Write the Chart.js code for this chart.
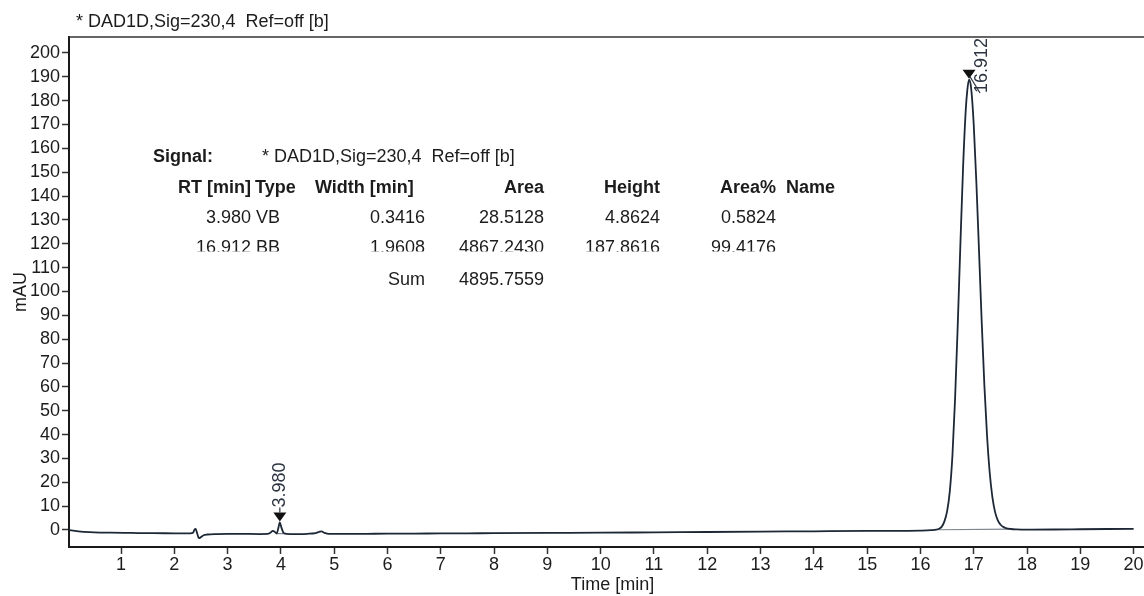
<!DOCTYPE html>
<html>
<head>
<meta charset="utf-8">
<script src="https://cdn.jsdelivr.net/npm/chart.js@4.4.1/dist/chart.umd.min.js"></script>
<style>
  html, body { margin: 0; padding: 0; background: #ffffff; overflow: hidden; }
  #wrap { width: 1156px; height: 596px; }
</style>
</head>
<body>
<div id="wrap"><canvas id="chrom" width="1156" height="596"></canvas></div>
<script>
// Chromatogram trace: retention time (min) and detector response (mAU)
const timeMin = [
  0.00, 0.10, 0.25, 0.50, 0.80, 1.20, 1.60, 2.00, 2.30, 2.35, 2.38, 2.40, 2.43, 2.46, 2.50, 2.55, 2.62,
  2.80, 3.00, 3.30, 3.60, 3.75, 3.80, 3.85, 3.89, 3.92, 3.95, 3.98, 4.01, 4.05, 4.10, 4.30, 4.50,
  4.65, 4.72, 4.76, 4.82, 4.90, 5.20, 5.60, 6.00, 6.50, 7.00, 7.50, 8.00, 9.00, 10.00, 11.00, 12.00,
  13.00, 14.00, 15.00, 15.60, 16.00, 16.20, 16.30, 16.35, 16.40, 16.45, 16.50, 16.55, 16.60, 16.65,
  16.70, 16.75, 16.80, 16.85, 16.88, 16.912, 16.95, 17.00, 17.05, 17.10, 17.15, 17.20, 17.25, 17.30,
  17.35, 17.40, 17.45, 17.50, 17.55, 17.60, 17.70, 17.80, 18.00, 18.50, 19.00, 19.50, 20.00
];
const signalMAU = [
  0.0, -0.3, -0.7, -1.0, -1.15, -1.25, -1.35, -1.4, -1.45, -1.2, 0.2, 0.4, -1.5, -3.4, -3.0, -2.2, -1.9,
  -1.7, -1.6, -1.65, -1.7, -1.65, -1.2, -0.4, -0.9, -1.5, 0.6, 3.15, 1.0, -1.2, -1.6, -1.7, -1.6,
  -1.3, -0.8, -0.6, -1.2, -1.6, -1.65, -1.6, -1.55, -1.5, -1.45, -1.4, -1.35, -1.25, -1.15, -1.0, -0.85,
  -0.7, -0.55, -0.4, -0.35, -0.25, -0.1, 0.1, 0.5, 1.4, 3.6, 7.8, 16, 31, 55,
  86, 120, 152, 176, 184.5, 188.8, 185.5, 170, 145.5, 116.5, 87, 60.5, 39.5, 24,
  13.8, 7.6, 4.1, 2.3, 1.3, 0.8, 0.4, 0.25, 0.15, 0.2, 0.3, 0.4, 0.5
];

// Integration baselines drawn under each peak
const baseStartT = [3.92, 16.33];
const baseEndT = [4.08, 17.70];
const baseStartY = [-1.5, 0.1];
const baseEndY = [-1.5, 0.35];

// Peak annotations
const peakRT = [3.980, 16.912];
const peakLabel = ['3.980', '16.912'];

// Axis ticks
const xTickValues = [1, 2, 3, 4, 5, 6, 7, 8, 9, 10, 11, 12, 13, 14, 15, 16, 17, 18, 19, 20];
const yTickValues = [0, 10, 20, 30, 40, 50, 60, 70, 80, 90, 100, 110, 120, 130, 140, 150, 160, 170, 180, 190, 200];

// Integration report
const signalName = '* DAD1D,Sig=230,4  Ref=off [b]';
const colHeaders = ['RT [min]', 'Type', 'Width [min]', 'Area', 'Height', 'Area%', 'Name'];
const colRT = ['3.980', '16.912'];
const colType = ['VB', 'BB'];
const colWidth = ['0.3416', '1.9608'];
const colArea = ['28.5128', '4867.2430'];
const colHeight = ['4.8624', '187.8616'];
const colAreaPct = ['0.5824', '99.4176'];
const sumArea = '4895.7559';

const FONT = '"Liberation Sans", Arial, Helvetica, sans-serif';
const TEXT = '#1c1c1c';

const traceData = timeMin.map((t, i) => ({ x: t, y: signalMAU[i] }));
const baselineData = [];
baseStartT.forEach((t, i) => {
  baselineData.push({ x: t, y: baseStartY[i] });
  baselineData.push({ x: baseEndT[i], y: baseEndY[i] });
  baselineData.push({ x: baseEndT[i] + 0.001, y: null });
});

const peakMarks = {
  id: 'peakMarks',
  afterDatasetsDraw(chart) {
    const { ctx, chartArea } = chart;
    const x = chart.scales.x, y = chart.scales.y;
    ctx.save();
    ctx.font = '18px ' + FONT;
    peakRT.forEach((rt, i) => {
      const idx = timeMin.indexOf(rt);
      const px = x.getPixelForValue(rt);
      const py = y.getPixelForValue(signalMAU[idx]);
      const tipY = py - 1, topY = tipY - 9;
      ctx.fillStyle = '#111111';
      ctx.beginPath();
      ctx.moveTo(px - 6.5, topY);
      ctx.lineTo(px + 6.5, topY);
      ctx.lineTo(px, tipY);
      ctx.closePath();
      ctx.fill();
      const label = peakLabel[i];
      const len = ctx.measureText(label).width;
      let lx = px, ly = topY - 5;
      ctx.strokeStyle = '#2b3440';
      ctx.lineWidth = 1.2;
      ctx.beginPath();
      if (ly - len < chartArea.top + 1) {
        lx = px + 13;
        ly = chartArea.top + 1 + len;
        ctx.moveTo(px + 1, tipY - 2);
        ctx.lineTo(lx - 2, ly);
      } else {
        ctx.moveTo(px, topY);
        ctx.lineTo(px, ly);
      }
      ctx.stroke();
      ctx.save();
      ctx.translate(lx, ly);
      ctx.rotate(-Math.PI / 2);
      ctx.fillStyle = '#2b3440';
      ctx.textAlign = 'left';
      ctx.textBaseline = 'middle';
      ctx.fillText(label, 0, 0);
      ctx.restore();
    });
    ctx.restore();
  }
};

const frameAndReport = {
  id: 'frameAndReport',
  afterDraw(chart) {
    const { ctx, chartArea } = chart;
    ctx.save();
    // top frame line
    ctx.strokeStyle = '#333333';
    ctx.lineWidth = 1.5;
    ctx.beginPath();
    ctx.moveTo(chartArea.left, chartArea.top);
    ctx.lineTo(chartArea.right, chartArea.top);
    ctx.stroke();

    // signal caption above the plot
    ctx.fillStyle = TEXT;
    ctx.textBaseline = 'alphabetic';
    ctx.font = '18px ' + FONT;
    ctx.textAlign = 'left';
    ctx.fillText(signalName, 76, 27);

    // report table
    const bold = 'bold 18px ' + FONT, reg = '18px ' + FONT;
    const put = (txt, xx, yy, align, f) => { ctx.font = f; ctx.textAlign = align; ctx.fillText(txt, xx, yy); };
    put('Signal:', 153, 162, 'left', bold);
    put(signalName, 262, 162, 'left', reg);

    const hy = 193;
    put(colHeaders[0], 251, hy, 'right', bold);
    put(colHeaders[1], 255, hy, 'left', bold);
    put(colHeaders[2], 315, hy, 'left', bold);
    put(colHeaders[3], 544, hy, 'right', bold);
    put(colHeaders[4], 660, hy, 'right', bold);
    put(colHeaders[5], 776, hy, 'right', bold);
    put(colHeaders[6], 786, hy, 'left', bold);

    const rowY = [223, 253];
    colRT.forEach((_, r) => {
      const yy = rowY[r];
      ctx.save();
      if (r === 1) { ctx.beginPath(); ctx.rect(0, yy - 20, 1156, 18.5); ctx.clip(); }
      put(colRT[r], 251, yy, 'right', reg);
      put(colType[r], 256, yy, 'left', reg);
      put(colWidth[r], 425, yy, 'right', reg);
      put(colArea[r], 544, yy, 'right', reg);
      put(colHeight[r], 660, yy, 'right', reg);
      put(colAreaPct[r], 776, yy, 'right', reg);
      ctx.restore();
    });
    put('Sum', 425, 285, 'right', reg);
    put(sumArea, 544, 285, 'right', reg);
    ctx.restore();
  }
};

new Chart(document.getElementById('chrom'), {
  type: 'line',
  data: {
    datasets: [
      {
        label: 'signal',
        data: traceData,
        borderColor: '#1d2836',
        borderWidth: 1.8,
        pointRadius: 0,
        cubicInterpolationMode: 'monotone',
        fill: false,
        order: 0
      },
      {
        label: 'baseline',
        data: baselineData,
        borderColor: '#7d8590',
        borderWidth: 1.2,
        pointRadius: 0,
        spanGaps: false,
        fill: false,
        order: 1
      }
    ]
  },
  options: {
    responsive: false,
    animation: false,
    devicePixelRatio: 1,
    layout: { padding: { top: 37, left: 0, right: 0, bottom: 0 } },
    plugins: { legend: { display: false }, tooltip: { enabled: false }, title: { display: false } },
    scales: {
      x: {
        type: 'linear',
        min: 0.024,
        max: 20.42,
        afterFit: s => { s.height = 49; },
        afterBuildTicks: s => { s.ticks = xTickValues.map(v => ({ value: v })); },
        ticks: { color: TEXT, font: { family: FONT, size: 18 }, padding: 0, maxRotation: 0, autoSkip: false },
        grid: { drawOnChartArea: false, drawTicks: true, tickLength: 7, tickColor: '#333333', tickWidth: 1.5 },
        border: { display: true, color: '#1a1a1a', width: 2 },
        title: { display: true, text: 'Time [min]', color: TEXT, font: { family: FONT, size: 18 }, padding: { top: 0, bottom: 0 } }
      },
      y: {
        type: 'linear',
        min: -7.14,
        max: 206.7,
        afterFit: s => { s.width = 69; },
        afterBuildTicks: s => { s.ticks = yTickValues.map(v => ({ value: v })); },
        ticks: { color: TEXT, font: { family: FONT, size: 18 }, padding: 2, autoSkip: false },
        grid: { drawOnChartArea: false, drawTicks: true, tickLength: 7, tickColor: '#333333', tickWidth: 1.5 },
        border: { display: true, color: '#1a1a1a', width: 2 },
        title: { display: true, text: 'mAU', color: TEXT, font: { family: FONT, size: 18 }, padding: { top: 10, bottom: 0 } }
      }
    }
  },
  plugins: [peakMarks, frameAndReport]
});
</script>
</body>
</html>
